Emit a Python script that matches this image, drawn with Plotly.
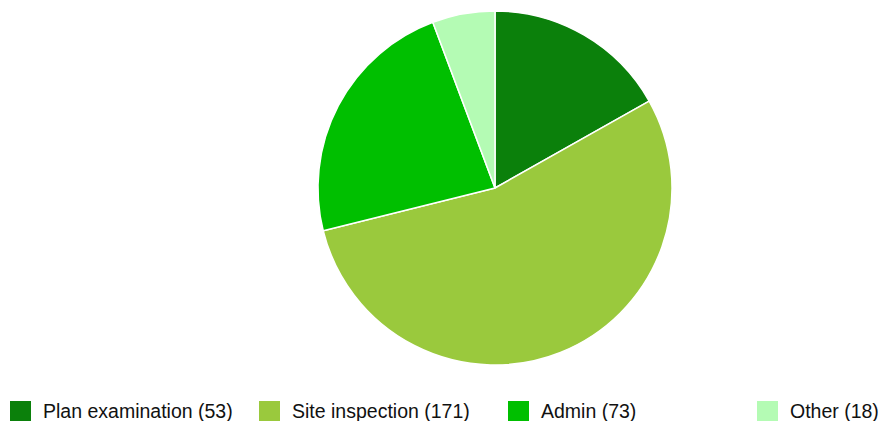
import plotly.graph_objects as go

# Data
categories = ["Plan examination", "Site inspection", "Admin", "Other"]
values = [53, 171, 73, 18]
colors = ["#0B800B", "#9AC93D", "#00BF00", "#B4FBB4"]

W, H = 880, 421

def px_x(x):
    return x / W

def px_y(y):
    return 1 - y / H

fig = go.Figure()
fig.add_trace(go.Pie(
    labels=categories,
    values=values,
    sort=False,
    direction="clockwise",
    rotation=0,
    marker=dict(colors=colors, line=dict(color="white", width=1.5)),
    textinfo="none",
    hoverinfo="label+value",
    showlegend=False,
    domain=dict(x=[px_x(318), px_x(672)], y=[px_y(365), px_y(11)]),
))

# Manual legend (positions are layout; labels come from the data arrays)
legend_x = [10, 259, 508, 757]
shapes = []
annotations = []
for i, (cat, val, col) in enumerate(zip(categories, values, colors)):
    x0 = legend_x[i]
    shapes.append(dict(
        type="rect", xref="paper", yref="paper",
        x0=px_x(x0), x1=px_x(x0 + 21), y0=px_y(422), y1=px_y(401),
        fillcolor=col, line=dict(width=0),
    ))
    annotations.append(dict(
        xref="paper", yref="paper", x=px_x(x0 + 31), y=px_y(410.5),
        xanchor="left", yanchor="middle", showarrow=False,
        text=f"{cat} ({val})",
        font=dict(family="Liberation Sans, Arial, sans-serif", size=19.5, color="#111111"),
    ))

fig.update_layout(
    width=W, height=H,
    margin=dict(l=0, r=0, t=0, b=0),
    paper_bgcolor="white",
    plot_bgcolor="white",
    shapes=shapes,
    annotations=annotations,
)

fig.write_html("out.html")
